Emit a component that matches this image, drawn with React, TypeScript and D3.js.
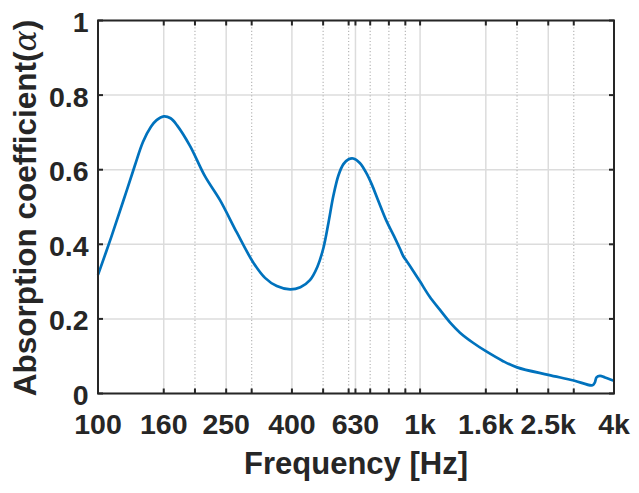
import React from "react";
import * as d3 from "d3";

const freqs = [100, 110, 120, 130, 138, 146, 152, 160, 168, 176, 193, 215, 239, 270, 303, 330, 359, 395, 425, 455, 480, 501, 520, 538, 558, 578, 600, 620, 650, 682, 710, 740, 787, 830, 866, 887, 905, 940, 1000, 1070, 1153, 1240, 1330, 1460, 1610, 1800, 2000, 2500, 3000, 3430, 3490, 3530, 3619, 3750, 4000];
const alphaVals = [0.318, 0.42, 0.518, 0.61, 0.675, 0.715, 0.733, 0.743, 0.738, 0.719, 0.664, 0.582, 0.519, 0.431, 0.352, 0.31, 0.288, 0.279, 0.285, 0.304, 0.34, 0.39, 0.46, 0.53, 0.585, 0.615, 0.628, 0.63, 0.618, 0.59, 0.558, 0.519, 0.462, 0.422, 0.388, 0.368, 0.357, 0.336, 0.3, 0.26, 0.224, 0.19, 0.163, 0.136, 0.112, 0.088, 0.07, 0.05, 0.035, 0.022, 0.03, 0.043, 0.047, 0.043, 0.034];

const majorTicks = [100, 160, 250, 400, 630, 1000, 1600, 2500, 4000];
const majorLabels = ["100", "160", "250", "400", "630", "1k", "1.6k", "2.5k", "4k"];
const minorTicks = [200, 300, 500, 600, 700, 800, 900, 2000, 3000];
const yTicks = [0, 0.2, 0.4, 0.6, 0.8, 1];
const yLabels = ["0", "0.2", "0.4", "0.6", "0.8", "1"];

const W = 639;
const H = 493;
const L = 98;
const R = 614;
const T = 20.5;
const B = 393.5;

export default function App() {
  const x = d3.scaleLog().domain([100, 4000]).range([L, R]);
  const y = d3.scaleLinear().domain([0, 1]).range([B, T]);
  const data = freqs.map((f, i) => [f, alphaVals[i]] as [number, number]);
  const line = d3
    .line<[number, number]>()
    .x((d) => x(d[0]))
    .y((d) => y(d[1]))
    .curve(d3.curveCatmullRom.alpha(0.5));
  const axisColor = "#262626";
  const font = "'Liberation Sans', Arial, sans-serif";
  const tickLen = 5;
  return (
    <svg width={W} height={H} style={{ position: "absolute", left: 0, top: 0, background: "#fff" }}>
      <rect x={0} y={0} width={W} height={H} fill="#fff" />
      {majorTicks.map((t) => (
        <line key={"gx" + t} x1={x(t)} x2={x(t)} y1={T} y2={B} stroke="#dcdcdc" strokeWidth={1.5} />
      ))}
      {yTicks.map((t) => (
        <line key={"gy" + t} x1={L} x2={R} y1={y(t)} y2={y(t)} stroke="#dcdcdc" strokeWidth={1.5} />
      ))}
      {minorTicks.map((t) => (
        <line key={"mx" + t} x1={x(t)} x2={x(t)} y1={T} y2={B} stroke="#b8b8b8" strokeWidth={1.2} strokeDasharray="1.2,2.2" />
      ))}
      <path d={line(data) || ""} fill="none" stroke="#0072BD" strokeWidth={2.7} strokeLinejoin="round" />
      {[...majorTicks, ...minorTicks].map((t) => (
        <g key={"tx" + t}>
          <line x1={x(t)} x2={x(t)} y1={B} y2={B - tickLen} stroke={axisColor} strokeWidth={2} />
          <line x1={x(t)} x2={x(t)} y1={T} y2={T + tickLen} stroke={axisColor} strokeWidth={2} />
        </g>
      ))}
      {yTicks.map((t) => (
        <g key={"ty" + t}>
          <line x1={L} x2={L + tickLen} y1={y(t)} y2={y(t)} stroke={axisColor} strokeWidth={2} />
          <line x1={R} x2={R - tickLen} y1={y(t)} y2={y(t)} stroke={axisColor} strokeWidth={2} />
        </g>
      ))}
      <rect x={L} y={T} width={R - L} height={B - T} fill="none" stroke={axisColor} strokeWidth={2} />
      {majorTicks.map((t, i) => (
        <text key={"lx" + t} x={x(t)} y={434} textAnchor="middle" fontFamily={font} fontWeight="bold" fontSize={28.5} fill={axisColor}>
          {majorLabels[i]}
        </text>
      ))}
      {yTicks.map((t, i) => (
        <text key={"ly" + t} x={88.5} y={y(t) + 11.5} textAnchor="end" fontFamily={font} fontWeight="bold" fontSize={28.5} fill={axisColor}>
          {yLabels[i]}
        </text>
      ))}
      <text x={(L + R) / 2} y={474} textAnchor="middle" fontFamily={font} fontWeight="bold" fontSize={31} fill={axisColor}>
        Frequency [Hz]
      </text>
      <text
        transform={`translate(36,${(T + B) / 2 + 1}) rotate(-90)`}
        textAnchor="middle"
        fontFamily={font}
        fontWeight="bold"
        fontSize={31.5}
        fill={axisColor}
      >
        Absorption coefficient(
        <tspan fontFamily="'DejaVu Serif', 'Liberation Serif', serif" fontStyle="italic" fontWeight="normal">
          α
        </tspan>
        )
      </text>
    </svg>
  );
}
